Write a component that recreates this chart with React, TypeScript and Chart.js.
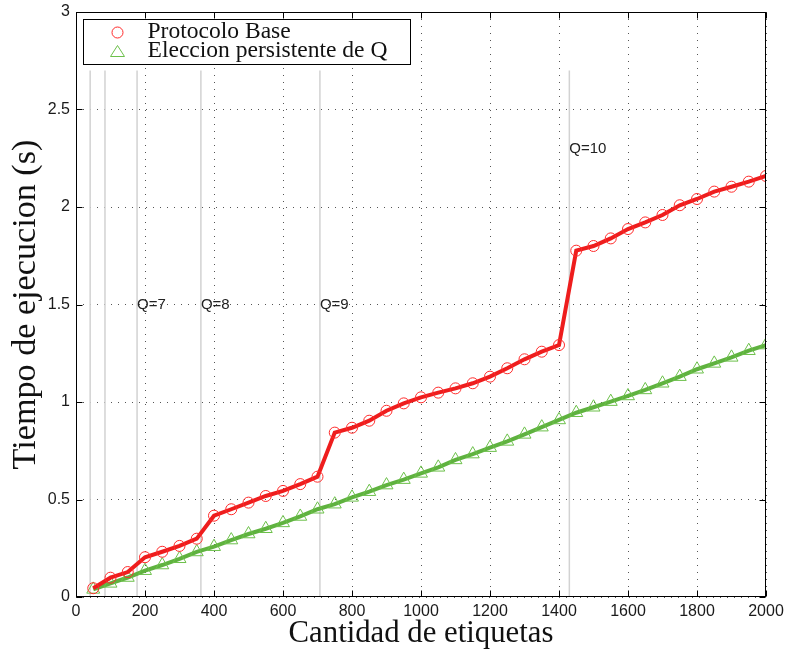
import React, { useEffect, useRef } from "react";
import { Chart, registerables } from "chart.js";

Chart.register(...registerables);

// ---------- data ----------
const etiquetas = [
  50, 100, 150, 200, 250, 300, 350, 400, 450, 500,
  550, 600, 650, 700, 750, 800, 850, 900, 950, 1000,
  1050, 1100, 1150, 1200, 1250, 1300, 1350, 1400, 1450, 1500,
  1550, 1600, 1650, 1700, 1750, 1800, 1850, 1900, 1950, 2000,
];
const protocoloBase = [
  0.045, 0.099, 0.128, 0.204, 0.232, 0.262, 0.299, 0.417, 0.45, 0.484,
  0.518, 0.544, 0.579, 0.617, 0.843, 0.868, 0.904, 0.955, 0.993, 1.024,
  1.048, 1.07, 1.096, 1.13, 1.173, 1.219, 1.258, 1.292, 1.776, 1.8,
  1.839, 1.887, 1.921, 1.959, 2.009, 2.041, 2.079, 2.104, 2.13, 2.159,
];
const eleccionPersistente = [
  0.039, 0.07, 0.1, 0.135, 0.164, 0.196, 0.231, 0.258, 0.292, 0.323,
  0.35, 0.38, 0.413, 0.45, 0.476, 0.511, 0.54, 0.574, 0.602, 0.634,
  0.665, 0.703, 0.733, 0.766, 0.798, 0.834, 0.871, 0.908, 0.945, 0.973,
  1.002, 1.031, 1.062, 1.096, 1.13, 1.168, 1.198, 1.229, 1.263, 1.292,
];
const seriesNames = ["Protocolo Base", "Eleccion persistente de Q"];
const qLineX = [41, 84, 177, 362, 707, 1430];
const qLineTop = 2.7;
const qLabels = ["Q=7", "Q=8", "Q=9", "Q=10"];
const qLabelX = [177, 362, 707, 1430];
const qLabelY = [1.5, 1.5, 1.5, 2.3];
const xMin = 0;
const xMax = 2000;
const xStep = 200;
const yMin = 0;
const yMax = 3;
const yStep = 0.5;
const xTitle = "Cantidad de etiquetas";
const yTitle = "Tiempo de ejecucion (s)";

// ---------- style ----------
const RED = "#ee1d1d";
const RED_MARK = "#ff2b2b";
const GREEN = "#5fb23f";
const GREEN_MARK = "#6cc04a";
const QLINE = "#d2d2d2";
const SERIF = '"Liberation Serif", serif';
const SANS = '"Liberation Sans", Arial, sans-serif';

function fitSize(text: string, family: string, target: number): number {
  const c = document.createElement("canvas").getContext("2d")!;
  c.font = `100px ${family}`;
  return (100 * target) / c.measureText(text).width;
}

export default function App() {
  const ref = useRef<HTMLCanvasElement | null>(null);

  useEffect(() => {
    const canvas = ref.current;
    if (!canvas) return;

    const yTitleSize = fitSize(yTitle, SERIF, 330);
    const xTitleSize = fitSize(xTitle, SERIF, 265);
    const legendSize = fitSize(seriesNames[1], SERIF, 240);

    const qDatasets = qLineX.map((x) => ({
      type: "line" as const,
      label: "__q",
      data: [
        { x, y: 0 },
        { x, y: qLineTop },
      ],
      borderColor: QLINE,
      borderWidth: 1.5,
      pointRadius: 0,
      fill: false,
      order: 10,
    }));

    const decor = {
      id: "decor",
      afterDraw(chart: any) {
        const { ctx, chartArea: a, scales } = chart;
        const xs = scales.x;
        const ys = scales.y;
        ctx.save();

        // Q labels
        ctx.font = `15px ${SANS}`;
        ctx.fillStyle = "#222";
        ctx.textBaseline = "middle";
        ctx.textAlign = "left";
        qLabels.forEach((t, i) => {
          ctx.fillText(t, xs.getPixelForValue(qLabelX[i]), ys.getPixelForValue(qLabelY[i]));
        });

        // frame
        ctx.strokeStyle = "#000";
        ctx.lineWidth = 1;
        ctx.setLineDash([]);
        const L = Math.round(a.left) + 0.5;
        const R = Math.round(a.right) - 0.5;
        const T = Math.round(a.top) + 0.5;
        const B = Math.round(a.bottom) - 0.5;
        ctx.strokeRect(L, T, R - L, B - T);

        // inward ticks
        const tl = 6;
        ctx.beginPath();
        xs.ticks.forEach((t: any) => {
          const px = Math.round(xs.getPixelForValue(t.value)) + 0.5;
          ctx.moveTo(px, B);
          ctx.lineTo(px, B - tl);
          ctx.moveTo(px, T);
          ctx.lineTo(px, T + tl);
        });
        ys.ticks.forEach((t: any) => {
          const py = Math.round(ys.getPixelForValue(t.value)) + 0.5;
          ctx.moveTo(L, py);
          ctx.lineTo(L + tl, py);
          ctx.moveTo(R, py);
          ctx.lineTo(R - tl, py);
        });
        ctx.stroke();

        // legend box
        const bx = L + 7;
        const by = T + 7;
        const bw = 327;
        const bh = 45;
        ctx.fillStyle = "#fff";
        ctx.fillRect(bx, by, bw, bh);
        ctx.strokeStyle = "#000";
        ctx.strokeRect(bx, by, bw, bh);

        const mx = bx + 34;
        // circle marker
        ctx.strokeStyle = RED_MARK;
        ctx.lineWidth = 1;
        ctx.beginPath();
        ctx.arc(mx, by + 13, 5.5, 0, Math.PI * 2);
        ctx.stroke();
        // triangle marker
        ctx.strokeStyle = GREEN_MARK;
        const ty = by + 32;
        ctx.beginPath();
        ctx.moveTo(mx, ty - 6);
        ctx.lineTo(mx + 7, ty + 5);
        ctx.lineTo(mx - 7, ty + 5);
        ctx.closePath();
        ctx.stroke();

        ctx.fillStyle = "#111";
        ctx.font = `${legendSize}px ${SERIF}`;
        ctx.textBaseline = "alphabetic";
        ctx.textAlign = "left";
        ctx.fillText(seriesNames[0], bx + 64, by + 18.5);
        ctx.fillText(seriesNames[1], bx + 64, by + 37.5);

        ctx.restore();
      },
    };

    const chart = new Chart(canvas, {
      type: "line",
      data: {
        datasets: [
          {
            label: seriesNames[0],
            data: etiquetas.map((x, i) => ({ x, y: protocoloBase[i] })),
            borderColor: RED,
            borderWidth: 4,
            pointStyle: "circle",
            pointRadius: 5.5,
            pointBorderWidth: 1,
            pointBorderColor: RED_MARK,
            pointBackgroundColor: "rgba(0,0,0,0)",
            fill: false,
            order: 1,
          },
          {
            label: seriesNames[1],
            data: etiquetas.map((x, i) => ({ x, y: eleccionPersistente[i] })),
            borderColor: GREEN,
            borderWidth: 4,
            pointStyle: "triangle",
            pointRadius: 7.5,
            pointBorderWidth: 1,
            pointBorderColor: GREEN_MARK,
            pointBackgroundColor: "rgba(0,0,0,0)",
            fill: false,
            order: 2,
          },
          ...qDatasets,
        ],
      },
      options: {
        responsive: false,
        animation: false,
        events: [],
        layout: { padding: { left: 0, top: 12, right: 20, bottom: 0 } },
        plugins: {
          legend: { display: false },
          tooltip: { enabled: false },
        },
        scales: {
          x: {
            type: "linear",
            min: xMin,
            max: xMax,
            afterFit: (s: any) => {
              s.height = 53;
              s.paddingLeft = 0;
              s.paddingRight = 0;
            },
            ticks: {
              stepSize: xStep,
              font: { family: SANS, size: 16 },
              color: "#1a1a1a",
              padding: 5,
              maxRotation: 0,
              callback: (v: any) => String(v),
            },
            grid: { color: "#555", lineWidth: 1, drawTicks: false },
            border: { display: false, dash: [1, 6] },
            title: {
              display: true,
              text: xTitle,
              font: { family: SERIF, size: xTitleSize, lineHeight: 1 },
              color: "#111",
              padding: { top: 0, bottom: 16 - xTitleSize / 2 },
            },
          },
          y: {
            type: "linear",
            min: yMin,
            max: yMax,
            afterFit: (s: any) => {
              s.width = 76;
              s.paddingTop = 0;
              s.paddingBottom = 0;
            },
            ticks: {
              stepSize: yStep,
              font: { family: SANS, size: 16 },
              color: "#1a1a1a",
              padding: 6,
              callback: (v: any) => String(v),
            },
            grid: { color: "#555", lineWidth: 1, drawTicks: false },
            border: { display: false, dash: [1, 6] },
            title: {
              display: true,
              text: yTitle,
              font: { family: SERIF, size: yTitleSize, lineHeight: 1 },
              color: "#111",
              padding: { top: 26 - yTitleSize / 2, bottom: 0 },
            },
          },
        },
      },
      plugins: [decor],
    } as any);

    return () => chart.destroy();
  }, []);

  return (
    <div style={{ position: "absolute", left: 0, top: 0, width: 786, height: 650, background: "#fff" }}>
      <canvas ref={ref} width={786} height={650} style={{ display: "block" }} />
    </div>
  );
}
